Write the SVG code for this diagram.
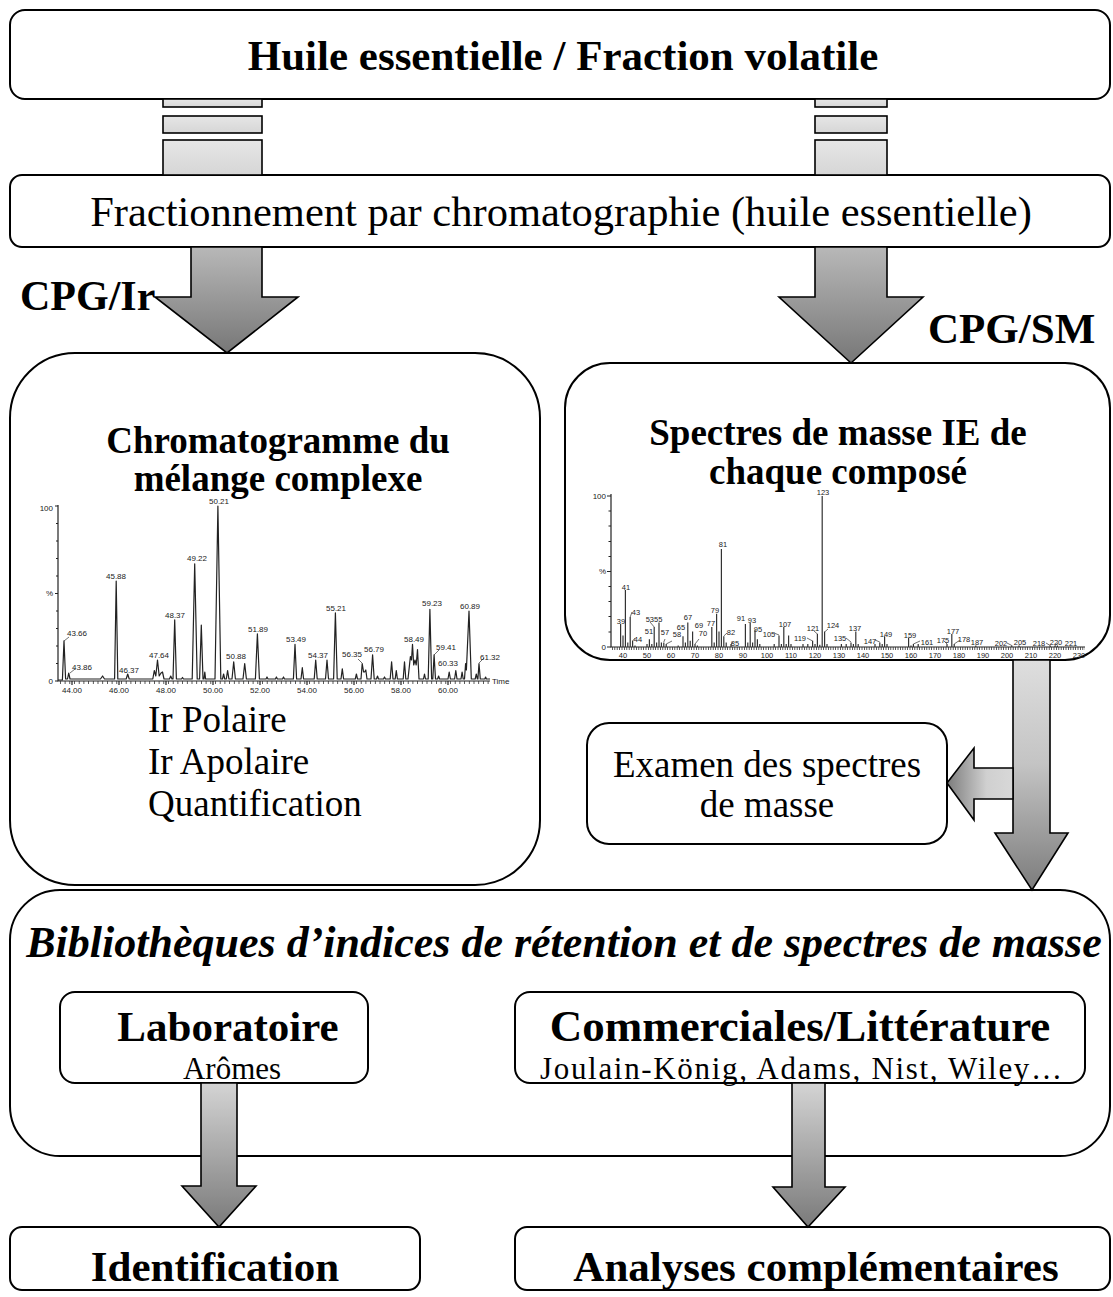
<svg xmlns="http://www.w3.org/2000/svg" width="1113" height="1297" viewBox="0 0 1113 1297">
<style>
.box{fill:#fff;stroke:#000;stroke-width:2}
.serif{font-family:"Liberation Serif","Times New Roman",serif;fill:#000}
.b{font-weight:bold}
.it{font-style:italic}
.mid{text-anchor:middle}
.lbl{font-family:"Liberation Sans",Arial,sans-serif;font-size:8px;fill:#222;text-anchor:middle}
.sl{font-family:"Liberation Sans",Arial,sans-serif;font-size:7.5px;fill:#222;text-anchor:middle}
.ax{font-family:"Liberation Sans",Arial,sans-serif;font-size:8px;fill:#222}
.axl{stroke:#222;stroke-width:1.2;fill:none}
.trace{stroke:#222;stroke-width:1.2;fill:none;stroke-linejoin:round}
.bar{stroke:#333;stroke-width:1.2}
.lead{stroke:#333;stroke-width:0.7;fill:none}
.conn{stroke:#000;stroke-width:1.6;stroke-linejoin:miter}
</style>
<defs>
<linearGradient id="gBar" x1="0" y1="0" x2="0" y2="1"><stop offset="0" stop-color="#e6e6e6"/><stop offset="1" stop-color="#d6d6d6"/></linearGradient>
<linearGradient id="gBig" x1="0" y1="0" x2="0" y2="1"><stop offset="0" stop-color="#b8b8b8"/><stop offset="1" stop-color="#777"/></linearGradient>
<linearGradient id="gDown" x1="0" y1="0" x2="0" y2="1"><stop offset="0" stop-color="#dedede"/><stop offset="0.45" stop-color="#c4c4c4"/><stop offset="1" stop-color="#7c7c7c"/></linearGradient>
<linearGradient id="gSmall" x1="0" y1="0" x2="0" y2="1"><stop offset="0" stop-color="#d4d4d4"/><stop offset="1" stop-color="#7a7a7a"/></linearGradient>
<linearGradient id="gLeft" x1="0" y1="0" x2="1" y2="0"><stop offset="0" stop-color="#7c7c7c"/><stop offset="0.6" stop-color="#d0d0d0"/><stop offset="1" stop-color="#d8d8d8"/></linearGradient>
</defs>

<g id="node-huile">
<rect class="box" x="10" y="10" width="1100" height="89" rx="15"/>
<text class="serif b mid" x="563" y="70" font-size="43">Huile essentielle / Fraction volatile</text>
</g>

<g id="node-fractionnement">
<rect class="box" x="10" y="175" width="1100" height="72" rx="12"/>
<text class="serif mid" x="561" y="226" font-size="42.5">Fractionnement par chromatographie (huile essentielle)</text>
</g>

<g id="node-chromatogramme">
<rect class="box" x="10" y="353" width="530" height="532" rx="65"/>
<text class="serif b mid" x="278" y="453" font-size="37">Chromatogramme du</text>
<text class="serif b mid" x="278" y="491" font-size="37">mélange complexe</text>
<path class="axl" d="M58,505 V681 H490"/>
<path class="axl" d="M55,506 H58 M55,593.5 H58 M55,681 H58 M56,523.5 H58 M56,541 H58 M56,558.5 H58 M56,576 H58 M56,611 H58 M56,628.5 H58 M56,646 H58 M56,663.5 H58"/>
<line x1="60" y1="682.5" x2="490" y2="682.5" stroke="#333" stroke-width="3" stroke-dasharray="0.8 3.9"/>
<path class="axl" d="M72,681 V685 M119,681 V685 M166,681 V685 M213,681 V685 M260,681 V685 M307,681 V685 M354,681 V685 M401,681 V685 M448,681 V685"/>
<text class="ax" x="53" y="511" text-anchor="end">100</text>
<text class="ax" x="53" y="596" text-anchor="end">%</text>
<text class="ax" x="53" y="684" text-anchor="end">0</text>
<text class="ax" x="492" y="684">Time</text>
<g class="ax">
<text x="72" y="693" text-anchor="middle">44.00</text><text x="119" y="693" text-anchor="middle">46.00</text><text x="166" y="693" text-anchor="middle">48.00</text><text x="213" y="693" text-anchor="middle">50.00</text><text x="260" y="693" text-anchor="middle">52.00</text><text x="307" y="693" text-anchor="middle">54.00</text><text x="354" y="693" text-anchor="middle">56.00</text><text x="401" y="693" text-anchor="middle">58.00</text><text x="448" y="693" text-anchor="middle">60.00</text>
</g>
<path class="trace" d="M58,680 L62.4,680 L64,640.8 L65.6,679 L67.5,679 L68.7,673 L70,679 L100.5,679 L102.6,676 L104.5,679 L114.6,679 L116.2,581 L117.8,679 L126.2,679 L127.7,674 L129.2,679 L152.8,679 L154.3,670.5 L155.8,676 L157.5,660 L159.2,676 L161,673 L162.5,672 L164,679 L169.5,679 L170.7,676 L172,679 L173,679 L174.7,619.8 L176.4,679 L181.5,679 L182.5,677.5 L183.5,679 L192.2,679 L194.7,563.8 L197.2,679 L199.6,679 L201.3,625 L203,679 L204,679 L204.8,672 L205.6,679 L215,679 L217.9,506 L220.8,679 L222.5,679 L223.6,674 L224.7,679 L226.3,679 L227.6,670.5 L228.9,679 L232,679 L233.7,661.8 L235.4,679 L243,679 L244.7,663.5 L246.4,679 L255.4,679 L257.4,633.8 L259.4,679 L266,679 L267,677 L268,679 L275.4,679 L276.4,677 L277.4,679 L282.5,679 L283.5,677 L284.5,679 L293.4,679 L295,644.3 L296.6,679 L301,679 L302.3,667.7 L303.6,679 L314.2,679 L315.7,660 L317.2,679 L325.5,679 L327,660 L328.5,679 L333.6,679 L335.4,612.8 L337.2,679 L341,679 L342.3,668.8 L343.6,679 L355.3,679 L356.4,674 L357.5,679 L361,679 L362.2,663.5 L363.6,672 L364.6,672 L365.8,670 L367,679 L371,679 L372.6,654.8 L374.2,679 L376.5,679 L377.5,676 L378.5,679 L383.5,679 L384.5,677 L385.5,679 L390.2,679 L391.6,661.8 L393,679 L395.2,679 L396.3,670.5 L397.4,679 L403.2,679 L404.5,661.8 L405.8,679 L408,679 L410.4,656.5 L411.5,660 L412.5,644.3 L413.7,665 L415,660 L416.2,665 L417.5,649.5 L419,679 L423.5,679 L424.5,674 L425.5,679 L428.2,679 L429.9,609.3 L431.6,679 L432.8,679 L434.1,654.8 L435.5,679 L437.6,679 L438.6,676 L439.6,679 L448,679 L449.2,672 L450.4,679 L454.6,679 L455.8,670.5 L457,679 L461,679 L462.1,672 L463.2,679 L464.5,679 L465.6,663.5 L466.4,670 L469,611 L471.3,679 L475.2,679 L476.3,674 L477.4,679 L477.9,679 L479,663.5 L480.3,679 L484.8,679 L485.6,677 L486.4,679 L490,679"/>
<path class="lead" d="M70,673 L75,669 M362,663 L358,659 M434,655 L439,650 M479,663 L484,658 M64,641 L69,637"/>
<text class="lbl" x="77" y="636">43.66</text>
<text class="lbl" x="82" y="670">43.86</text>
<text class="lbl" x="116" y="579">45.88</text>
<text class="lbl" x="129" y="673">46.37</text>
<text class="lbl" x="159" y="658">47.64</text>
<text class="lbl" x="175" y="618">48.37</text>
<text class="lbl" x="197" y="561">49.22</text>
<text class="lbl" x="219" y="504">50.21</text>
<text class="lbl" x="236" y="659">50.88</text>
<text class="lbl" x="258" y="632">51.89</text>
<text class="lbl" x="296" y="642">53.49</text>
<text class="lbl" x="318" y="658">54.37</text>
<text class="lbl" x="336" y="611">55.21</text>
<text class="lbl" x="352" y="657">56.35</text>
<text class="lbl" x="374" y="652">56.79</text>
<text class="lbl" x="414" y="642">58.49</text>
<text class="lbl" x="432" y="606">59.23</text>
<text class="lbl" x="446" y="650">59.41</text>
<text class="lbl" x="448" y="666">60.33</text>
<text class="lbl" x="470" y="609">60.89</text>
<text class="lbl" x="490" y="660">61.32</text>
<text class="serif" x="148" y="732" font-size="37">Ir Polaire</text>
<text class="serif" x="148" y="774" font-size="37">Ir Apolaire</text>
<text class="serif" x="148" y="816" font-size="37">Quantification</text>
</g>

<g id="node-spectres">
<rect class="box" x="565" y="363" width="545" height="297" rx="45"/>
<text class="serif b mid" x="838" y="445" font-size="37">Spectres de masse IE de</text>
<text class="serif b mid" x="838" y="484" font-size="37">chaque composé</text>
<path class="axl" d="M611,494 V647 H1085"/>
<path class="axl" d="M607,496 H611 M607,571.5 H611 M607,647 H611 M608.5,511 H611 M608.5,526 H611 M608.5,541.5 H611 M608.5,556.5 H611 M608.5,586.5 H611 M608.5,601.5 H611 M608.5,616.5 H611 M608.5,632 H611"/>
<line x1="612" y1="648.5" x2="1085" y2="648.5" stroke="#333" stroke-width="3" stroke-dasharray="0.8 1.6"/>
<text class="ax" x="606" y="499" text-anchor="end">100</text>
<text class="ax" x="606" y="574" text-anchor="end">%</text>
<text class="ax" x="606" y="650" text-anchor="end">0</text>
<g>
<text class="sl" x="623" y="658">40</text><text class="sl" x="647" y="658">50</text><text class="sl" x="671" y="658">60</text><text class="sl" x="695" y="658">70</text><text class="sl" x="719" y="658">80</text><text class="sl" x="743" y="658">90</text><text class="sl" x="767" y="658">100</text><text class="sl" x="791" y="658">110</text><text class="sl" x="815" y="658">120</text><text class="sl" x="839" y="658">130</text><text class="sl" x="863" y="658">140</text><text class="sl" x="887" y="658">150</text><text class="sl" x="911" y="658">160</text><text class="sl" x="935" y="658">170</text><text class="sl" x="959" y="658">180</text><text class="sl" x="983" y="658">190</text><text class="sl" x="1007" y="658">200</text><text class="sl" x="1031" y="658">210</text><text class="sl" x="1055" y="658">220</text><text class="sl" x="1079" y="658">230</text>
</g>
<path class="bar" d="M620.6,647V623.9 M623,647V635.5 M625.4,647V590 M627.8,647V642.4 M630.2,647V617 M632.6,647V640.8 M635,647V645.5 M647,647V643.9 M649.4,647V639.3 M651.8,647V643.9 M654.2,647V627 M656.6,647V642.4 M659,647V622.4 M661.4,647V642.4 M663.8,647V642.4 M666.2,647V643.9 M678.2,647V645.5 M683,647V636.2 M685.4,647V642.4 M687.8,647V622.4 M690.2,647V640.8 M692.6,647V631.6 M695,647V643.9 M697.4,647V645.5 M711.8,647V627 M714.2,647V642.4 M716.6,647V613.7 M719,647V631.6 M721.4,647V549 M723.8,647V636.2 M726.2,647V642.4 M731,647V643.9 M745.4,647V623.9 M747.8,647V642.4 M750.2,647V623.1 M752.6,647V642.4 M755,647V630 M757.4,647V639.3 M759.8,647V643.9 M774.2,647V643.9 M779,647V635.5 M781.4,647V643.9 M783.8,647V627 M786.2,647V643.9 M788.6,647V635.5 M791,647V643.9 M803,647V643.9 M807.8,647V643.9 M812.6,647V640.8 M815,647V643.9 M817.4,647V633.8 M819.8,647V644.7 M822.2,647V496 M824.6,647V631.6 M827,647V643.9 M841.4,647V643.9 M846.2,647V643.9 M851,647V642.4 M853.4,647V643.9 M855.8,647V631.6 M858.2,647V643.9 M875,647V643.9 M879.8,647V642.4 M882.2,647V643.9 M884.6,647V636.2 M887,647V643.9 M908.6,647V637.8 M911,647V645.5 M913.4,647V643.9 M918.2,647V643.9 M947,647V643.9 M951.8,647V633.9 M954.2,647V643.9 M975.8,647V645.5 M1011.8,647V645.5 M1019,647V645.5 M1050.2,647V645.5 M1055,647V645.5 M1057.4,647V645.5"/>
<path class="lead" d="M630.2,617 L632,612 M632.6,641 L635,638 M654.2,627 L650,622 M663.8,642 L665,639 M666.2,644 L672,641 M695,644 L699,639 M731,644 L733,642 M723.8,636 L727,633 M779,635 L774,633 M812.6,641 L807,638 M817.4,634 L814,631 M824.6,632 L828,629 M851,642 L846,638 M879.8,642 L875,640 M913.4,644 L920,641 M947,644 L944,641 M954.2,644 L960,640 M1011.8,645.5 L1007,643 M1050.2,645.5 L1046,643 M1055,645.5 L1058,643"/>
<text class="sl" x="621" y="624">39</text>
<text class="sl" x="626" y="590">41</text>
<text class="sl" x="636" y="615">43</text>
<text class="sl" x="638" y="642">44</text>
<text class="sl" x="649" y="634">51</text>
<text class="sl" x="654" y="622">5355</text>
<text class="sl" x="665" y="635">57</text>
<text class="sl" x="677" y="637">58</text>
<text class="sl" x="681" y="630">65</text>
<text class="sl" x="688" y="620">67</text>
<text class="sl" x="699" y="628">69</text>
<text class="sl" x="703" y="636">70</text>
<text class="sl" x="711" y="626">77</text>
<text class="sl" x="715" y="613">79</text>
<text class="sl" x="723" y="547">81</text>
<text class="sl" x="731" y="635">82</text>
<text class="sl" x="735" y="646">85</text>
<text class="sl" x="741" y="621">91</text>
<text class="sl" x="752" y="623">93</text>
<text class="sl" x="758" y="632">95</text>
<text class="sl" x="769" y="637">105</text>
<text class="sl" x="785" y="627">107</text>
<text class="sl" x="800" y="641">119</text>
<text class="sl" x="813" y="631">121</text>
<text class="sl" x="823" y="495">123</text>
<text class="sl" x="833" y="628">124</text>
<text class="sl" x="840" y="641">135</text>
<text class="sl" x="855" y="631">137</text>
<text class="sl" x="870" y="644">147</text>
<text class="sl" x="886" y="637">149</text>
<text class="sl" x="910" y="638">159</text>
<text class="sl" x="927" y="645">161</text>
<text class="sl" x="943" y="643">175</text>
<text class="sl" x="953" y="634">177</text>
<text class="sl" x="964" y="642">178</text>
<text class="sl" x="977" y="645">187</text>
<text class="sl" x="1001" y="646">202</text>
<text class="sl" x="1020" y="645">205</text>
<text class="sl" x="1039" y="646">218</text>
<text class="sl" x="1056" y="645">220</text>
<text class="sl" x="1071" y="646">221</text>
</g>

<g id="node-examen">
<rect class="box" x="587" y="723" width="360" height="121" rx="22"/>
<text class="serif mid" x="767" y="777" font-size="37">Examen des spectres</text>
<text class="serif mid" x="767" y="817" font-size="37">de masse</text>
</g>

<g id="node-bibliotheques">
<rect class="box" x="10" y="890" width="1100" height="266" rx="50"/>
<text class="serif b it mid" x="564" y="957" font-size="44">Bibliothèques d’indices de rétention et de spectres de masse</text>
</g>

<g id="node-laboratoire">
<rect class="box" x="60" y="992" width="308" height="91" rx="15"/>
<text class="serif b mid" x="228" y="1041" font-size="43">Laboratoire</text>
<text class="serif mid" x="232" y="1079" font-size="31">Arômes</text>
</g>

<g id="node-commerciales">
<rect class="box" x="515" y="992" width="570" height="91" rx="15"/>
<text class="serif b mid" x="800" y="1041" font-size="45">Commerciales/Littérature</text>
<text class="serif mid" x="801" y="1079" font-size="31" textLength="522" lengthAdjust="spacing">Joulain-König, Adams, Nist, Wiley…</text>
</g>

<g id="node-identification">
<rect class="box" x="10" y="1227" width="410" height="63" rx="12"/>
<text class="serif b mid" x="215" y="1281" font-size="43">Identification</text>
</g>

<g id="node-analyses">
<rect class="box" x="515" y="1227" width="595" height="63" rx="12"/>
<text class="serif b mid" x="816" y="1281" font-size="43">Analyses complémentaires</text>
</g>

<g id="connectors">
<rect class="conn" fill="url(#gBar)" x="163" y="99" width="99" height="8"/>
<rect class="conn" fill="url(#gBar)" x="163" y="116" width="99" height="17"/>
<rect class="conn" fill="url(#gBar)" x="163" y="140" width="99" height="35"/>
<rect class="conn" fill="url(#gBar)" x="815" y="99" width="72" height="8"/>
<rect class="conn" fill="url(#gBar)" x="815" y="116" width="72" height="17"/>
<rect class="conn" fill="url(#gBar)" x="815" y="140" width="72" height="35"/>
<polygon class="conn" fill="url(#gBig)" points="191,247 262,247 262,297 298,297 227,353 155,297 191,297"/>
<polygon class="conn" fill="url(#gBig)" points="815,247 887,247 887,297 923,297 851,363 779,297 815,297"/>
<polygon class="conn" fill="url(#gDown)" points="1013,660 1050,660 1050,833 1068,833 1032,890 995,833 1013,833"/>
<polygon class="conn" fill="url(#gLeft)" points="1013,768 974,768 974,748 947,783 974,820 974,799 1013,799"/>
<polygon class="conn" fill="url(#gSmall)" points="201,1083 237,1083 237,1186 256,1186 219,1227 182,1186 201,1186"/>
<polygon class="conn" fill="url(#gSmall)" points="792,1083 825,1083 825,1187 845,1187 808,1227 773,1187 792,1187"/>
</g>

<g id="label-cpg-ir"><text class="serif b" x="20" y="310" font-size="42">CPG/Ir</text></g>
<g id="label-cpg-sm"><text class="serif b" x="928" y="343" font-size="43">CPG/SM</text></g>
</svg>
